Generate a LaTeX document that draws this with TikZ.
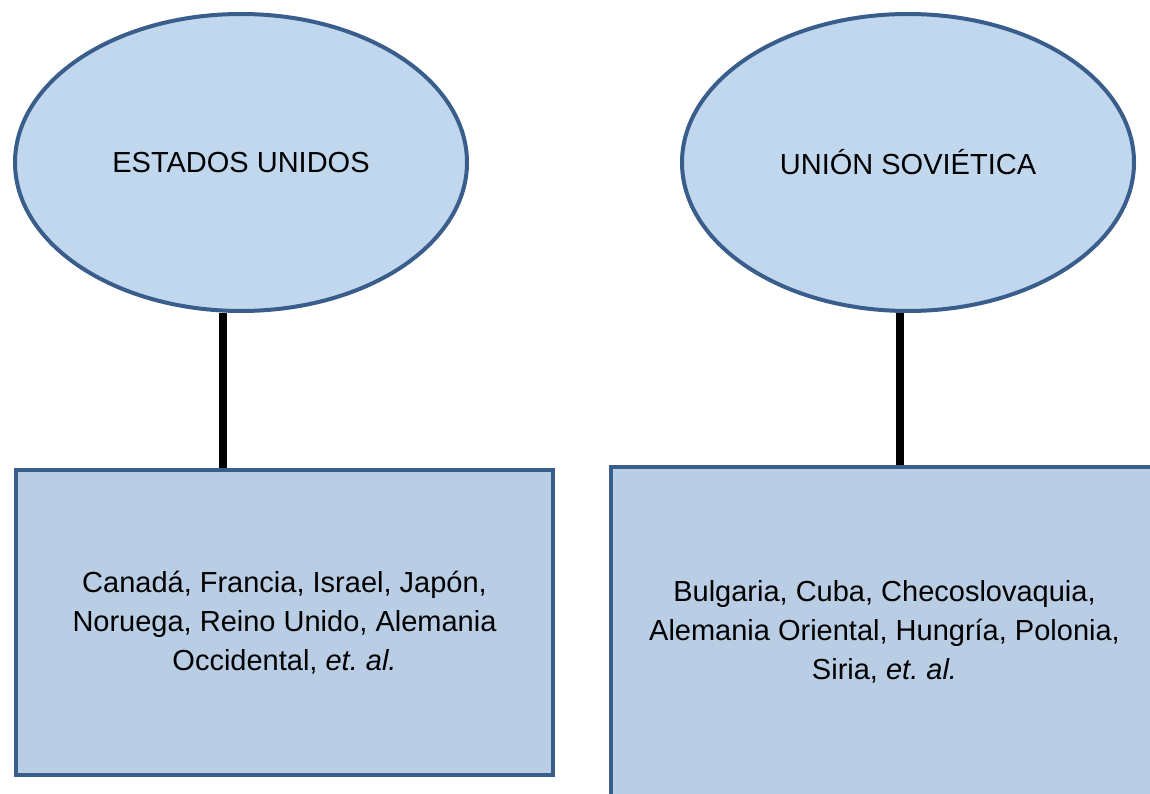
\documentclass[tikz,border=0pt]{standalone}
\usepackage{fontspec}
\setmainfont{Liberation Sans}
\usetikzlibrary{shapes.geometric}
\definecolor{borde}{RGB}{58,94,139}
\definecolor{elipse}{RGB}{193,215,238}
\definecolor{caja}{RGB}{185,205,228}
\tikzset{
potencia/.style={ellipse, draw=borde, fill=elipse, line width=4pt, minimum width=452pt, minimum height=297pt, inner sep=0pt},
bloque/.style={rectangle, draw=borde, fill=caja, line width=4pt, inner sep=0pt},
lista/.style={align=center, font=\fontsize{29pt}{39pt}\selectfont},
enlace/.style={line width=8pt, black}
}
\frenchspacing

\begin{document}
\begin{tikzpicture}[x=1pt,y=-1pt]
\useasboundingbox (0,0) rectangle (1150,794);
\clip (0,0) rectangle (1150,794);
\node[potencia] (eeuu) at (241,162.5) {\fontsize{29pt}{35pt}\selectfont ESTADOS UNIDOS};
\node[potencia] (urss) at (908,162.5) {\fontsize{29pt}{35pt}\selectfont UNIÓN SOVIÉTICA};
\node[bloque, minimum width=537pt, minimum height=305pt] (aliados) at (284.5,622.5) {};
\node[bloque, minimum width=564pt, minimum height=343pt] (pacto) at (893,638.5) {};
\node[lista] (txtaliados) at (284.5,622.5) {Canadá, Francia, Israel, Japón,\\ Noruega, Reino Unido, Alemania\\ Occidental, \textit{et. al.}};
\node[lista] (txtpacto) at (884.5,632) {Bulgaria, Cuba, Checoslovaquia,\\ Alemania Oriental, Hungría, Polonia,\\ Siria, \textit{et. al.}};
\draw[enlace] ([xshift=-18pt]eeuu.south) -- ([xshift=-18pt]eeuu.south |- aliados.north);
\draw[enlace] ([xshift=-8pt]urss.south) -- ([xshift=-8pt]urss.south |- pacto.north);
\end{tikzpicture}
\end{document}
